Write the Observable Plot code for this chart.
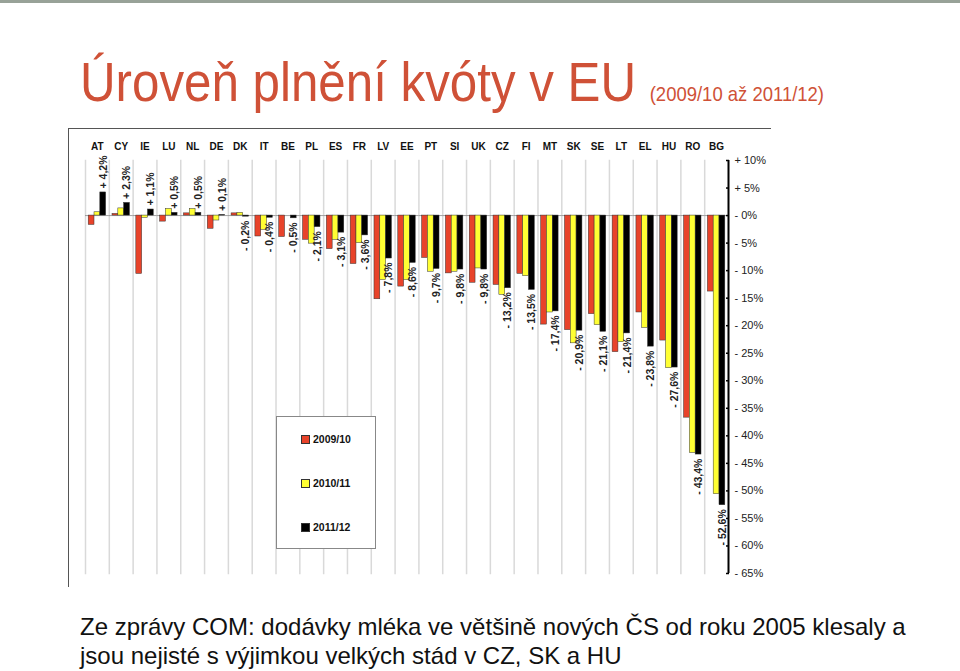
<!DOCTYPE html>
<html><head><meta charset="utf-8">
<script src="https://cdn.jsdelivr.net/npm/d3@7"></script>
<script src="https://cdn.jsdelivr.net/npm/@observablehq/plot@0.6"></script>
<style>
html,body{margin:0;padding:0;background:#fff;}
body{width:960px;height:671px;position:relative;overflow:hidden;font-family:"Liberation Sans",Arial,sans-serif;}
#topbar{position:absolute;left:0;top:0;width:960px;height:3px;background:#98a298;}
#title{position:absolute;left:80px;top:54px;white-space:nowrap;color:#CF5137;font-size:56px;line-height:56px;transform:scaleX(0.88);transform-origin:left top;}
#title .sub{font-size:21px;}
#frame{position:absolute;left:68px;top:128px;width:702px;height:458px;border-top:1.5px solid #555;border-left:1.5px solid #555;}
#chart{position:absolute;left:60px;top:125px;}
#legend{position:absolute;left:276px;top:416px;width:98px;height:131px;border:1.5px solid #888;background:#fff;font-weight:bold;font-size:10.5px;color:#111;}
#legend .item{position:absolute;left:24px;display:flex;align-items:center;}
#legend .sw{width:7px;height:7px;border:0.8px solid #333;margin-right:3px;}
#caption{position:absolute;left:80px;top:612px;font-size:24px;line-height:29px;color:#111;white-space:nowrap;}
</style>
</head><body>
<div id="topbar"></div>
<div id="title">Úroveň plnění kvóty v EU <span class="sub">(2009/10 až 2011/12)</span></div>
<div id="frame"></div>
<div id="chart"></div>
<div id="legend"></div>
<div id="caption">Ze zprávy COM: dodávky mléka ve většině nových ČS od roku 2005 klesaly a<br>jsou nejisté s výjimkou velkých stád v CZ, SK a HU</div>
<script>
const countries = ["AT","CY","IE","LU","NL","DE","DK","IT","BE","PL","ES","FR","LV","EE","PT","SI","UK","CZ","FI","MT","SK","SE","LT","EL","HU","RO","BG"];
const series = ["2009/10","2010/11","2011/12"];
const v0910 = [-1.7, 0.3, -10.6, -1.1, 0.4, -2.4, 0.4, -3.8, -3.9, -4.4, -6.1, -8.8, -15.2, -12.9, -7.7, -10.5, -12.2, -12.6, -10.6, -19.8, -20.8, -17.9, -24.8, -17.6, -22.7, -36.7, -13.8];
const v1011 = [0.6, 1.3, -0.4, 1.2, 1.2, -0.9, 0.5, -2.6, 0.0, -5.1, -4.4, -5.0, -11.7, -11.7, -10.2, -10.2, -9.6, -14.4, -11.0, -17.6, -23.2, -19.9, -23.0, -20.4, -27.7, -43.1, -50.6];
const v1112 = [4.2, 2.3, 1.1, 0.5, 0.5, 0.1, -0.2, -0.4, -0.5, -2.1, -3.1, -3.6, -7.8, -8.6, -9.7, -9.8, -9.8, -13.2, -13.5, -17.4, -20.9, -21.1, -21.4, -23.8, -27.6, -43.4, -52.6];
const yTicks = [10, 5, 0, -5, -10, -15, -20, -25, -30, -35, -40, -45, -50, -55, -60, -65];
const yTickLabels = ["+ 10%","+ 5%","- 0%","- 5%","- 10%","- 15%","- 20%","- 25%","- 30%","- 35%","- 40%","- 45%","- 50%","- 55%","- 60%","- 65%"];
const colors = ["#E8432A", "#FFFF33", "#000000"];

const valuesBySeries = [v0910, v1011, v1112];
const data = countries.flatMap((c, i) => series.map((s, k) => ({country: c, series: s, value: valuesBySeries[k][i]})));
const labels = countries.map((c, i) => ({country: c, series: series[2], value: v1112[i]}));
const fmt = v => (v >= 0 ? "+ " : "- ") + Math.abs(v).toFixed(1).replace(".", ",") + "%";

const W = 720, ML = 25, MR = 52, PO = 0.55;
const facetStep = (W - ML - MR) / countries.length;
const xStep = facetStep / (series.length + 2 * PO);
const yDomain = [yTicks[yTicks.length - 1], yTicks[0]];

const chart = Plot.plot({
  width: W, height: 465,
  marginLeft: ML, marginRight: MR, marginTop: 35, marginBottom: 17,
  fx: {domain: countries, padding: 0, round: false, label: null, axis: null},
  x: {domain: series, axis: null, paddingInner: 0, paddingOuter: PO, round: false},
  y: {domain: yDomain, axis: null},
  color: {domain: series, range: colors},
  style: {fontFamily: "Liberation Sans, Arial, sans-serif", background: "transparent", overflow: "visible"},
  marks: [
    Plot.frame({anchor: "left", stroke: "#d9d9d9", strokeWidth: 1.5, strokeOpacity: 1}),
    Plot.ruleY([0], {stroke: "#8a8a8a", strokeWidth: 0.8}),
    Plot.barY(data, {fx: "country", x: "series", y: "value", fill: "series", stroke: "#333", strokeWidth: 0.5}),
    Plot.text(labels.filter(d => d.value >= 0), {fx: "country", x: "series", y: "value", text: d => fmt(d.value), rotate: -90, textAnchor: "start", dy: -4, fontWeight: "bold", fontSize: 10.5, fill: "#222"}),
    Plot.text(labels.filter(d => d.value < 0), {fx: "country", x: "series", y: "value", text: d => fmt(d.value), rotate: -90, textAnchor: "end", dy: 4, fontWeight: "bold", fontSize: 10.5, fill: "#222"}),
    Plot.axisFx({anchor: "top", tickSize: 0, tickPadding: 11, fontWeight: "bold", fontSize: 10, label: null, fill: "#111"}),
    // right-hand axis line, on the last facet's right edge
    Plot.ruleX([countries[countries.length - 1]], {fx: d => d, x: () => series[series.length - 1], y1: yDomain[0], y2: yDomain[1], dx: (0.5 + PO) * xStep, stroke: "#000", strokeWidth: 2}),
    Plot.axisY({anchor: "right", ticks: yTicks, tickSize: 3, text: null, label: null, dx: -3, stroke: "#000", strokeWidth: 1.5}),
    Plot.axisY({anchor: "right", ticks: yTicks, tickFormat: d => yTickLabels[yTicks.indexOf(d)], tickSize: 0, tickPadding: 6, fontSize: 11, label: null, fill: "#222"})
  ]
});
document.getElementById("chart").appendChild(chart);

const legend = document.getElementById("legend");
series.forEach((s, k) => {
  const item = document.createElement("div");
  item.className = "item";
  item.style.top = (16 + k * 44) + "px";
  const sw = document.createElement("span");
  sw.className = "sw";
  sw.style.background = colors[k];
  const t = document.createElement("span");
  t.textContent = s;
  item.appendChild(sw); item.appendChild(t);
  legend.appendChild(item);
});
</script>
</body></html>
